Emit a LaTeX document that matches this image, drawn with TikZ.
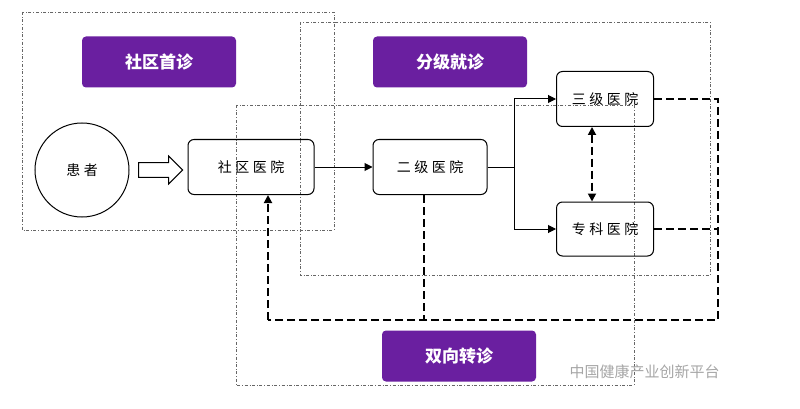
\documentclass[tikz,border=0pt]{standalone}
\usepackage{fontspec}
\setmainfont{Noto Sans CJK SC}
\usetikzlibrary{arrows.meta,shapes.arrows}
\definecolor{pur}{HTML}{6A1FA0}
\begin{document}
\begin{tikzpicture}[x=1pt,y=-1pt,
 zone/.style={draw=gray!80!black,dash dot,line width=0.6pt},
 tag/.style={fill=pur,rounded corners=4pt,text=white,font=\bfseries\fontsize{17}{17}\selectfont,minimum width=154pt,minimum height=51pt,inner sep=0pt},
 hosp/.style={draw,line width=1pt,rounded corners=6pt,font=\fontsize{14}{14}\selectfont\addfontfeature{LetterSpace=25},inner sep=0pt},
 flow/.style={line width=1pt,-{Triangle[length=8pt,width=8pt]}},
 ret/.style={line width=1.8pt,dash pattern=on 8pt off 4pt},
 rettip/.style={ret,-{Triangle[length=8pt,width=8pt]}}]
\useasboundingbox (0,0) rectangle (800,409);
\fill[white] (0,0) rectangle (800,409);
\draw[zone] (22,12) rectangle (334,230);
\draw[zone] (300,22) rectangle (710,275);
\draw[zone] (236,105) rectangle (634,385);
\node[tag] (t1) at (159,62) {社区首诊};
\node[tag] (t2) at (450,62) {分级就诊};
\node[tag] (t3) at (459,356) {双向转诊};
\node[draw,line width=1pt,circle,minimum size=94pt,font=\fontsize{14}{14}\selectfont\addfontfeature{LetterSpace=25}] (p) at (82,170) {患者};
\node[draw,line width=1pt,single arrow,minimum height=44pt,minimum width=28pt,single arrow head extend=5pt,single arrow head indent=0pt,inner sep=5pt] (ha) at (157,170) {};
\node[hosp,minimum width=126pt,minimum height=55pt] (s) at (251,167) {社区医院};
\node[hosp,minimum width=114pt,minimum height=55pt] (e) at (430,167) {二级医院};
\node[hosp,minimum width=97pt,minimum height=55pt] (a) at (605,99) {三级医院};
\node[hosp,minimum width=97pt,minimum height=54pt] (z) at (605,229) {专科医院};
\coordinate (j) at (514,167);
\coordinate (bl) at (268,320);
\coordinate (be) at (424,320);
\coordinate (br) at (718,320);
\coordinate (ra) at (718,99);
\coordinate (rz) at (718,229);
\draw[flow] (s) -- (e);
\draw[line width=1pt] (e) -- (j);
\draw[flow] (j) |- (a.west);
\draw[flow] (j) |- (z.west);
\draw[ret,{Triangle[length=8pt,width=8pt]}-{Triangle[length=8pt,width=8pt]}] (a.south -| 592,0) -- (z.north -| 592,0);
\draw[ret] (e.south -| be) -- (be);
\draw[ret] (a.east) -- (ra) -- (br) -- (bl);
\draw[ret] (z.east) -- (rz);
\draw[rettip] (bl) -- (s.south -| bl);
\node[text=gray!70,font=\fontsize{15}{15}\selectfont,anchor=west] (w) at (566,372) {中国健康产业创新平台};
\end{tikzpicture}
\end{document}
